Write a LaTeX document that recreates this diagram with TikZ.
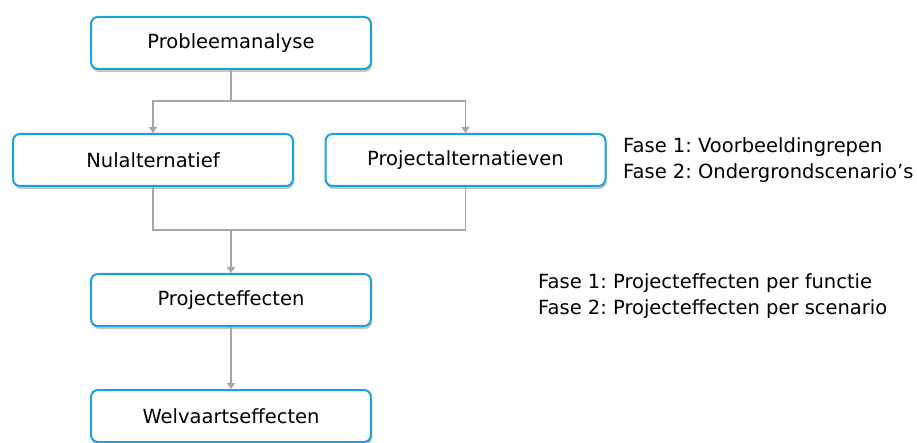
\documentclass[tikz,border=0pt]{standalone}
\usepackage{fontspec}
\setmainfont{DejaVu Sans}
\frenchspacing
\usetikzlibrary{arrows.meta,shadows}

\definecolor{boxblue}{RGB}{27,160,224}
\definecolor{linegray}{RGB}{166,166,166}

\begin{document}
\begin{tikzpicture}[x=1pt,y=-1pt,
		box/.style={draw=boxblue,line width=2pt,rounded corners=7pt,fill=white,
			minimum width=280pt,minimum height=52pt,font=\fontsize{19.5}{22}\selectfont,
			drop shadow={shadow xshift=1pt,shadow yshift=-3pt,opacity=0.45}},
		conn/.style={draw=linegray,line width=1.6pt},
		arr/.style={conn,-{Triangle[length=6pt,width=8pt]}},
		note/.style={anchor=west,align=left,inner sep=0pt,font=\fontsize{19.5}{26.5}\selectfont}]
		\useasboundingbox (0,0) rectangle (917,443);
		% boxes
		\node[box] (prob) at (231,43) {Probleemanalyse};
		\node[box] (nul) at (153,160) {Nulalternatief};
		\node[box] (proj) at (465.5,160) {Projectalternatieven};
		\node[box] (eff) at (231,300) {Projecteffecten};
		\node[box] (welv) at (231,416) {Welvaartseffecten};
		% split and join points
		\coordinate (split) at (231,101);
		\coordinate (join) at (231,230);
		\draw[conn] (prob.south) -- (split);
		\draw[arr] (split) -| (nul.north);
		\draw[arr] (split) -| (proj.north);
		\draw[conn] (nul.south) |- (join);
		\draw[conn] (proj.south) |- (join);
		\draw[arr] (join) -- (eff.north);
		\draw[arr] (eff.south) -- (welv.north);
		% phases
		\node[note] (fasealt) at (623,160) {Fase 1: Voorbeeldingrepen\\Fase 2: Ondergrondscenario’s};
		\node[note] (faseeff) at (538,296) {Fase 1: Projecteffecten per functie\\Fase 2: Projecteffecten per scenario};
\end{tikzpicture}
\end{document}
